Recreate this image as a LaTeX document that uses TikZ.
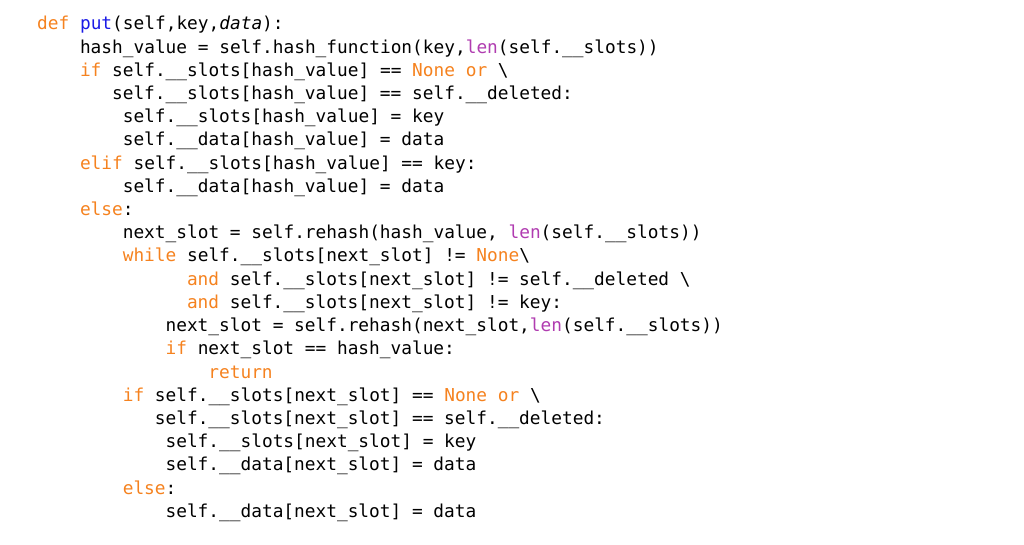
\documentclass[tikz,border=0pt]{standalone}
\usepackage{fontspec}
\newfontfamily\codefont{DejaVu Sans Mono}
\definecolor{kwc}{HTML}{F5821F}
\definecolor{fnc}{HTML}{1A1AE6}
\definecolor{bic}{HTML}{B03CB0}
\newcommand{\kw}[1]{\textcolor{kwc}{#1}}
\newcommand{\bs}{\textbackslash}
\begin{document}
\begin{tikzpicture}[x=1pt,y=1pt,
  ln/.style={anchor=base west,inner sep=0pt,font=\codefont\fontsize{17.8}{20}\selectfont,text=black}]
\useasboundingbox (0,0) rectangle (1024,-545);
\def\cw{10.7}
\def\L#1#2#3{\node[ln] (l#1) at ({37+#2*\cw},{-30-23.2*#1}) {#3};}
\L{0}{0}{\kw{def} \textcolor{fnc}{put}(self,key,\textit{data}):}
\L{1}{4}{hash\_value = self.hash\_function(key,\textcolor{bic}{len}(self.\_\_slots))}
\L{2}{4}{\kw{if} self.\_\_slots[hash\_value] == \kw{None} \kw{or} \bs}
\L{3}{7}{self.\_\_slots[hash\_value] == self.\_\_deleted:}
\L{4}{8}{self.\_\_slots[hash\_value] = key}
\L{5}{8}{self.\_\_data[hash\_value] = data}
\L{6}{4}{\kw{elif} self.\_\_slots[hash\_value] == key:}
\L{7}{8}{self.\_\_data[hash\_value] = data}
\L{8}{4}{\kw{else}:}
\L{9}{8}{next\_slot = self.rehash(hash\_value, \textcolor{bic}{len}(self.\_\_slots))}
\L{10}{8}{\kw{while} self.\_\_slots[next\_slot] != \kw{None}\bs}
\L{11}{14}{\kw{and} self.\_\_slots[next\_slot] != self.\_\_deleted \bs}
\L{12}{14}{\kw{and} self.\_\_slots[next\_slot] != key:}
\L{13}{12}{next\_slot = self.rehash(next\_slot,\textcolor{bic}{len}(self.\_\_slots))}
\L{14}{12}{\kw{if} next\_slot == hash\_value:}
\L{15}{16}{\kw{return}}
\L{16}{8}{\kw{if} self.\_\_slots[next\_slot] == \kw{None} \kw{or} \bs}
\L{17}{11}{self.\_\_slots[next\_slot] == self.\_\_deleted:}
\L{18}{12}{self.\_\_slots[next\_slot] = key}
\L{19}{12}{self.\_\_data[next\_slot] = data}
\L{20}{8}{\kw{else}:}
\L{21}{12}{self.\_\_data[next\_slot] = data}
\end{tikzpicture}
\end{document}
